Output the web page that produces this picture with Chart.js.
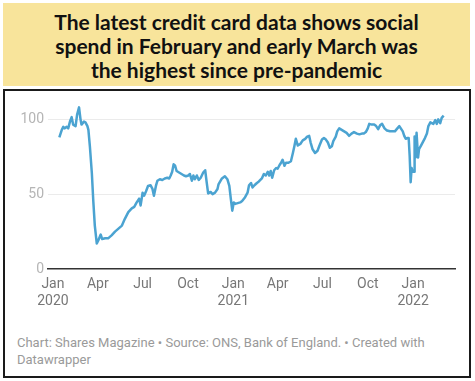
<!DOCTYPE html>
<html>
<head>
<meta charset="utf-8">
<script src="https://cdn.jsdelivr.net/npm/chart.js@4"></script>
<style>
  body { margin: 0; width: 475px; height: 381px; background: #fff; position: relative; overflow: hidden; }
  #title {
    position: absolute; left: 3px; top: 3px; width: 467px; height: 83px;
    background: #f8e49b; text-align: center; box-sizing: border-box; padding-top: 7px;
    font-family: Lato, sans-serif; font-weight: bold; font-size: 21px; line-height: 24px; color: #111;
  }
  #box {
    position: absolute; left: 3px; top: 89px; width: 468px; height: 289px;
    border: 2px solid #1a1a1a; box-sizing: border-box;
  }
  #chart { position: absolute; left: 3px; top: 92px; }
  #footer {
    position: absolute; left: 17px; top: 334px;
    font-family: Roboto, sans-serif; font-size: 13px; line-height: 17px; color: #9a9a9a;
  }
</style>
</head>
<body>
<div id="title">The latest credit card data shows social<br>spend in February and early March was<br>the highest since pre-pandemic</div>
<div id="box"></div>
<canvas id="chart" width="466" height="225"></canvas>
<div id="footer">Chart: Shares Magazine • Source: ONS, Bank of England. • Created with<br>Datawrapper</div>
<script>
// social spending index
const dates2020 = ['2020-01-14','2020-01-19','2020-01-22','2020-01-25','2020-01-29','2020-02-01','2020-02-05','2020-02-08','2020-02-11','2020-02-16','2020-02-19','2020-02-23','2020-02-26','2020-02-28','2020-03-04','2020-03-07','2020-03-11','2020-03-13','2020-03-16','2020-03-20','2020-03-23','2020-03-26','2020-03-30','2020-04-02','2020-04-07','2020-04-10','2020-04-16','2020-04-22','2020-04-29','2020-05-06','2020-05-13','2020-05-20','2020-05-26','2020-06-02','2020-06-09','2020-06-14','2020-06-19','2020-06-24','2020-06-27','2020-07-01','2020-07-04','2020-07-08','2020-07-12','2020-07-17','2020-07-21','2020-07-24','2020-07-28','2020-07-31','2020-08-05','2020-08-10','2020-08-15','2020-08-20','2020-08-24','2020-08-27','2020-08-30','2020-09-02','2020-09-05','2020-09-08','2020-09-13','2020-09-18','2020-09-23','2020-09-27','2020-10-02','2020-10-05','2020-10-09','2020-10-12','2020-10-15','2020-10-19','2020-10-23','2020-10-27','2020-11-01','2020-11-05','2020-11-08','2020-11-11','2020-11-16','2020-11-20','2020-11-25','2020-11-30','2020-12-02','2020-12-09','2020-12-15','2020-12-20','2020-12-24','2020-12-27','2020-12-30'];
const values2020 = [88,93,95,94,95,94,99,101.5,96.5,95.5,103,108,100,96.5,98.5,98,95.5,93,82,64,45,29,17,19,23,20,20.5,20.5,22.5,25,27,29,33.5,38,40.5,41.5,44.5,47,42.5,51,49,52,55.5,56,53.5,49,55.5,59,60,59.5,60.5,61,60.5,62.5,65,70,69,65.5,64.5,63.5,62.5,62,62.5,63.5,59,62.5,60,62.5,59.5,61,64.5,66,58,50.5,51.5,50,51,53.5,56.5,60.5,62,60,55.5,47,39];

const dates2021 = ['2021-01-02','2021-01-05','2021-01-10','2021-01-15','2021-01-19','2021-01-25','2021-01-30','2021-02-02','2021-02-06','2021-02-09','2021-02-13','2021-02-18','2021-02-22','2021-02-28','2021-03-04','2021-03-08','2021-03-12','2021-03-15','2021-03-18','2021-03-21','2021-03-25','2021-03-29','2021-04-01','2021-04-05','2021-04-08','2021-04-11','2021-04-15','2021-04-18','2021-04-23','2021-04-28','2021-05-02','2021-05-05','2021-05-08','2021-05-12','2021-05-17','2021-05-22','2021-05-27','2021-05-31','2021-06-04','2021-06-07','2021-06-11','2021-06-16','2021-06-21','2021-06-25','2021-06-30','2021-07-04','2021-07-08','2021-07-12','2021-07-16','2021-07-20','2021-07-23','2021-07-28','2021-07-31','2021-08-04','2021-08-09','2021-08-14','2021-08-19','2021-08-24','2021-08-29','2021-09-03','2021-09-09','2021-09-14','2021-09-19','2021-09-23','2021-09-27','2021-10-01','2021-10-04','2021-10-09','2021-10-14','2021-10-18','2021-10-22','2021-10-26','2021-10-30','2021-11-04','2021-11-09','2021-11-15','2021-11-21','2021-11-25','2021-11-30','2021-12-04','2021-12-07','2021-12-11','2021-12-14','2021-12-17','2021-12-20','2021-12-23','2021-12-25','2021-12-27','2021-12-29','2021-12-31'];
const values2021 = [44.5,43.5,44,44.5,45.5,48,51,56,57.5,54.5,56,57.5,58.5,60.5,63.5,62.5,65,62.5,65.5,61,66,67.5,67,69.5,71,73,69,71,71,72,77.5,82,87,82.5,83.5,86,87,88.5,89,84.5,80,77.5,79,82.5,86.5,87.5,86.5,84.5,81,82,85.5,88.5,92,94,93,92,91,89,90.5,91.5,90.5,90,90.5,90.5,91.5,94,97,96.5,96.5,95.5,93.5,96,97,94,92.5,92,92,92,94,95.5,94,92,89,87,87.5,87.5,75.5,58,67.5,65];

const dates2022 = ['2022-01-03','2022-01-04','2022-01-06','2022-01-08','2022-01-11','2022-01-13','2022-01-17','2022-01-21','2022-01-25','2022-01-29','2022-02-01','2022-02-05','2022-02-08','2022-02-11','2022-02-15','2022-02-18','2022-02-21','2022-02-25','2022-02-28','2022-03-04'];
const values2022 = [65,88.5,74.5,91,74.5,80,82.5,85,87.5,90.5,95.5,98,97.5,97,99.5,97,100,97.5,101,102.5];

const tickDates = ['2020-01-01','2020-04-01','2020-07-01','2020-10-01','2021-01-01','2021-04-01','2021-07-01','2021-10-01','2022-01-01'];
const tickLabels = [['Jan','2020'],'Apr','Jul','Oct',['Jan','2021'],'Apr','Jul','Oct',['Jan','2022']];
const yTicks = [0, 50, 100];

const origin = Date.UTC(2020, 0, 1);
function dayOf(s) {
  const p = s.split('-').map(Number);
  return (Date.UTC(p[0], p[1] - 1, p[2]) - origin) / 86400000;
}

const dates = dates2020.concat(dates2021, dates2022);
const values = values2020.concat(values2021, values2022);
const points = dates.map((d, i) => ({ x: dayOf(d), y: values[i] }));
const tickDays = tickDates.map(dayOf);

new Chart(document.getElementById('chart'), {
  type: 'line',
  data: {
    datasets: [{
      data: points,
      borderColor: '#4ba3d1',
      borderWidth: 2.5,
      pointRadius: 0,
      tension: 0,
      borderJoinStyle: 'round',
      fill: false
    }]
  },
  options: {
    responsive: false,
    animation: false,
    devicePixelRatio: 1,
    layout: { padding: { top: 11, right: 14, left: 0, bottom: 0 } },
    plugins: { legend: { display: false }, tooltip: { enabled: false } },
    scales: {
      x: {
        type: 'linear',
        min: -10,
        max: 816,
        afterBuildTicks: (s) => { s.ticks = tickDays.map(v => ({ value: v })); },
        afterFit: (s) => { s.height = 48; },
        grid: { display: false, drawTicks: false },
        border: { display: true, color: '#333', width: 1.5 },
        ticks: {
          autoSkip: false,
          maxRotation: 0,
          padding: 7,
          color: '#777',
          font: { family: 'Roboto', size: 14, lineHeight: '17px' },
          callback: (v) => {
            const i = tickDays.indexOf(v);
            return i >= 0 ? tickLabels[i] : '';
          }
        }
      },
      y: {
        min: 0,
        max: 110,
        afterBuildTicks: (s) => { s.ticks = yTicks.map(v => ({ value: v })); },
        afterFit: (s) => { s.width = 45; },
        grid: {
          drawTicks: false,
          color: (c) => c.tick && c.tick.value === 0 ? 'rgba(0,0,0,0)' : '#ebebeb',
          lineWidth: 1
        },
        border: { display: false },
        ticks: {
          padding: 4,
          color: '#b5b5b5',
          font: { family: 'Roboto', size: 14 }
        }
      }
    }
  }
});
</script>
</body>
</html>
